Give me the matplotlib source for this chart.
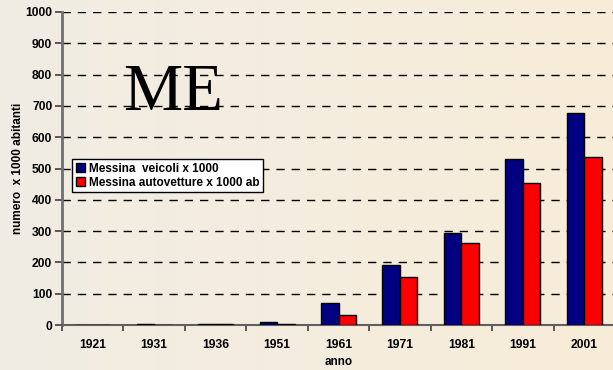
import numpy as np
import matplotlib.pyplot as plt
from matplotlib.colors import LinearSegmentedColormap

# dati
anni = ['1921', '1931', '1936', '1951', '1961', '1971', '1981', '1991', '2001']
veicoli = [0, 2, 4, 8, 71, 191, 294, 529, 677]
autovetture = [0, 1, 3, 4, 32, 153, 262, 453, 538]

plt.rcParams['font.family'] = ['Liberation Sans', 'DejaVu Sans']

fig = plt.figure(figsize=(6.13, 3.70), dpi=100)

# sfondo sfumato
bg = fig.add_axes([0, 0, 1, 1], zorder=-10)
grad = np.linspace(0, 1, 256).reshape(1, -1)
cmap = LinearSegmentedColormap.from_list('bg', ['#F1EDE4', '#F8ECD8'])
bg.imshow(grad, aspect='auto', cmap=cmap, extent=[0, 1, 0, 1])
bg.axis('off')

W, H = 613, 370
ax = fig.add_axes([62 / W, (H - 325) / H, (615 - 62) / W, (325 - 12) / H])
ax.set_facecolor('none')

x = np.arange(len(anni))
w = 0.285
ax.bar(x - w / 2, veicoli, w, color='#000080', edgecolor='black', linewidth=1,
       label='Messina  veicoli x 1000', zorder=3)
ax.bar(x + w / 2, autovetture, w, color='#FF0000', edgecolor='black', linewidth=1,
       label='Messina autovetture x 1000 ab', zorder=3)

ax.set_xlim(-0.5, len(anni) - 0.5)
ax.set_ylim(0, 1000)
ax.set_yticks(range(0, 1001, 100))
ax.set_xticks(x)
ax.set_xticklabels(anni)
ax.set_xticks(np.arange(-0.5, len(anni), 1), minor=True)
ax.tick_params(axis='x', which='major', length=0, pad=10)
ax.tick_params(axis='x', which='minor', length=4, width=1.2, color='#404040')
ax.tick_params(axis='y', length=5, width=1.2, color='#404040', pad=2)
for lab in ax.get_xticklabels() + ax.get_yticklabels():
    lab.set_fontweight('bold')
    lab.set_fontsize(8.7)

ax.grid(axis='y', color='black', linestyle=(0, (6, 5)), linewidth=1, zorder=0)
for s in ['top', 'right']:
    ax.spines[s].set_visible(False)
ax.spines['left'].set_color('#707070')
ax.spines['left'].set_linewidth(2)
ax.spines['bottom'].set_color('#606060')
ax.spines['bottom'].set_linewidth(1.5)

ax.set_xlabel('anno', fontsize=8.5, fontweight='bold', labelpad=4)
ax.set_ylabel('numero  x 1000 abitanti', fontsize=8.5, fontweight='bold', labelpad=1)

ax.text(173 / W, (H - 94) / H, 'ME', transform=fig.transFigure, fontsize=48,
        family='Liberation Serif', ha='center', va='center')

leg = ax.legend(loc='upper left', bbox_to_anchor=(72 / W, (H - 159) / H),
                bbox_transform=fig.transFigure, fancybox=False, framealpha=1,
                edgecolor='black', handlelength=0.8, handleheight=0.8, handletextpad=0.3,
                borderpad=0.3, labelspacing=0.2, borderaxespad=0,
                prop={'weight': 'bold', 'size': 8.5})
leg.get_frame().set_linewidth(1)

fig.savefig('out.png', dpi=100)
